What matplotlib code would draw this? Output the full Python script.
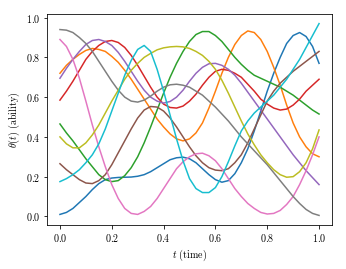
import numpy as np
import matplotlib
matplotlib.use("Agg")
import matplotlib.pyplot as plt

plt.rcParams['font.family'] = 'serif'
plt.rcParams['font.serif'] = ['cmr10']
plt.rcParams['mathtext.fontset'] = 'cm'
plt.rcParams['axes.formatter.use_mathtext'] = True
plt.rcParams['font.size'] = 10

# values read at t = 0, 0.025, ..., 1
t = np.linspace(0, 1, 41)

blue = [0.01, 0.02, 0.04, 0.07, 0.10, 0.135, 0.165, 0.185, 0.193, 0.196, 0.197,
        0.198, 0.202, 0.21, 0.225, 0.245, 0.265, 0.285, 0.295, 0.298, 0.29,
        0.27, 0.24, 0.21, 0.185, 0.172, 0.18, 0.215, 0.27, 0.34, 0.43,
        0.53, 0.63, 0.72, 0.80, 0.87, 0.91, 0.925, 0.905, 0.855, 0.77]
orange = [0.72, 0.76, 0.79, 0.815, 0.835, 0.845, 0.84, 0.83, 0.805, 0.775, 0.735,
          0.69, 0.64, 0.59, 0.54, 0.49, 0.45, 0.415, 0.39, 0.38, 0.39,
          0.42, 0.47, 0.545, 0.63, 0.72, 0.80, 0.865, 0.91, 0.933, 0.925,
          0.89, 0.83, 0.75, 0.66, 0.56, 0.47, 0.40, 0.35, 0.315, 0.30]
green = [0.465, 0.42, 0.38, 0.335, 0.29, 0.25, 0.21, 0.185, 0.175, 0.18, 0.205,
         0.245, 0.30, 0.37, 0.45, 0.535, 0.62, 0.70, 0.77, 0.83, 0.88,
         0.915, 0.93, 0.93, 0.91, 0.88, 0.84, 0.80, 0.765, 0.735, 0.71,
         0.695, 0.68, 0.665, 0.65, 0.63, 0.61, 0.585, 0.56, 0.535, 0.515]
red = [0.585, 0.63, 0.68, 0.735, 0.79, 0.83, 0.86, 0.88, 0.885, 0.875, 0.85,
       0.81, 0.76, 0.705, 0.65, 0.60, 0.565, 0.548, 0.545, 0.555, 0.58,
       0.615, 0.66, 0.70, 0.73, 0.74, 0.735, 0.72, 0.70, 0.665, 0.63,
       0.59, 0.565, 0.545, 0.535, 0.54, 0.56, 0.59, 0.63, 0.66, 0.69]
purple = [0.695, 0.745, 0.79, 0.83, 0.865, 0.885, 0.89, 0.88, 0.86, 0.825, 0.78,
          0.73, 0.68, 0.635, 0.60, 0.58, 0.57, 0.578, 0.60, 0.635, 0.68,
          0.72, 0.75, 0.768, 0.77, 0.76, 0.74, 0.71, 0.67, 0.625, 0.58,
          0.535, 0.49, 0.445, 0.40, 0.355, 0.31, 0.27, 0.23, 0.195, 0.16]
brown = [0.265, 0.235, 0.21, 0.185, 0.168, 0.165, 0.18, 0.21, 0.26, 0.32, 0.38,
         0.44, 0.495, 0.535, 0.553, 0.55, 0.53, 0.495, 0.45, 0.40, 0.35,
         0.305, 0.27, 0.245, 0.233, 0.23, 0.24, 0.27, 0.31, 0.37, 0.44,
         0.51, 0.58, 0.63, 0.67, 0.70, 0.73, 0.755, 0.78, 0.805, 0.83]
pink = [0.89, 0.855, 0.79, 0.695, 0.58, 0.46, 0.35, 0.25, 0.16, 0.09, 0.04,
        0.015, 0.01, 0.025, 0.05, 0.09, 0.14, 0.19, 0.24, 0.275, 0.30,
        0.315, 0.318, 0.305, 0.28, 0.24, 0.19, 0.14, 0.10, 0.065, 0.04,
        0.02, 0.012, 0.015, 0.03, 0.06, 0.10, 0.16, 0.23, 0.31, 0.40]
gray = [0.94, 0.937, 0.925, 0.90, 0.87, 0.83, 0.78, 0.73, 0.68, 0.635, 0.60,
        0.58, 0.575, 0.585, 0.605, 0.63, 0.65, 0.662, 0.665, 0.66, 0.65,
        0.63, 0.61, 0.58, 0.55, 0.515, 0.48, 0.44, 0.40, 0.365, 0.33,
        0.295, 0.26, 0.22, 0.18, 0.14, 0.10, 0.065, 0.035, 0.015, 0.005]
olive = [0.40, 0.365, 0.345, 0.345, 0.37, 0.41, 0.46, 0.52, 0.58, 0.635, 0.69,
         0.735, 0.77, 0.80, 0.82, 0.838, 0.848, 0.853, 0.855, 0.853, 0.845,
         0.83, 0.81, 0.78, 0.74, 0.685, 0.62, 0.55, 0.48, 0.415, 0.36,
         0.31, 0.27, 0.235, 0.21, 0.197, 0.20, 0.225, 0.27, 0.34, 0.435]
cyan = [0.175, 0.19, 0.21, 0.235, 0.27, 0.31, 0.365, 0.44, 0.53, 0.62, 0.71,
        0.785, 0.84, 0.86, 0.83, 0.74, 0.63, 0.51, 0.39, 0.28, 0.19,
        0.14, 0.12, 0.12, 0.145, 0.20, 0.275, 0.355, 0.43, 0.48, 0.52,
        0.55, 0.58, 0.61, 0.65, 0.69, 0.74, 0.79, 0.85, 0.91, 0.97]

series = [blue, orange, green, red, purple, brown, pink, gray, olive, cyan]

fig = plt.figure(figsize=(346/72, 269/72), dpi=72)
ax = fig.add_axes([47/346, 1-225/269, (332-47)/346, (225-14)/269])
for s in series:
    ax.plot(t, s, lw=1.5)
ax.set_xlabel(r"$t$ (time)")
ax.set_ylabel(r"$\theta(t)$ (ability)")
ax.set_xticks([0, 0.2, 0.4, 0.6, 0.8, 1.0])
ax.set_yticks([0, 0.2, 0.4, 0.6, 0.8, 1.0])

fig.savefig("out.png", dpi=72)
